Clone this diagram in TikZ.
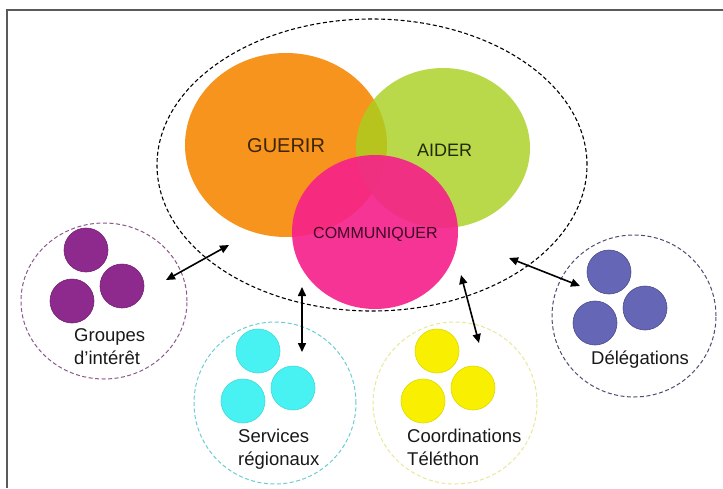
\documentclass[tikz,border=0pt]{standalone}
\usepackage{fontspec}
\setmainfont{Liberation Sans}
\usetikzlibrary{arrows.meta,shapes.geometric}
\definecolor{cOrange}{HTML}{F7941D}
\definecolor{cGreen}{HTML}{A8D01E}
\definecolor{cPink}{HTML}{F61F8A}
\definecolor{cPurple}{HTML}{8E2A8E}
\definecolor{cCyan}{HTML}{48F2F2}
\definecolor{cYellow}{HTML}{F8F000}
\definecolor{cBlue}{HTML}{6666B6}
\definecolor{dPurple}{HTML}{8A5A8A}
\definecolor{dCyan}{HTML}{6CCCD8}
\definecolor{dYellow}{HTML}{E8E89A}
\definecolor{dBlue}{HTML}{4E4E70}
\definecolor{cFrame}{HTML}{5A5A5A}
\begin{document}
\begin{tikzpicture}[x=1pt,y=-1pt,
  frame/.style={draw=cFrame,line width=2pt},
  bigell/.style={ellipse,draw=black,dashed,dash pattern=on 4pt off 2.5pt,line width=1.1pt,inner sep=0pt},
  mainell/.style={ellipse,inner sep=0pt,draw=none},
  grpell/.style={ellipse,dashed,dash pattern=on 4pt off 2.5pt,line width=1pt,inner sep=0pt,minimum width=164pt,minimum height=160pt},
  dot/.style={circle,inner sep=0pt,minimum size=44pt,line width=0.6pt},
  mainlbl/.style={anchor=base west,inner sep=0pt},
  grplbl/.style={anchor=base west,inner sep=0pt,align=left,font=\fontsize{18.5}{22.5}\selectfont,text=black!90},
  link/.style={{Triangle[length=9pt,width=8pt]}-{Triangle[length=9pt,width=8pt]},line width=1.6pt,black}
]
\useasboundingbox (0,0) rectangle (723,488);
\fill[white] (0,0) rectangle (723,488);
\draw[frame] (7,488) -- (7,10) -- (723,10);

% main cluster
\node[bigell,minimum width=430pt,minimum height=292pt] (outer) at (372,165) {};
\node[mainell,fill=cOrange,minimum width=202pt,minimum height=184pt] (guerir) at (286,145) {};
\node[mainell,fill=cGreen,fill opacity=0.8,minimum width=174pt,minimum height=160pt] (aider) at (443,148) {};
\node[mainell,fill=cPink,fill opacity=0.9,minimum width=166pt,minimum height=154pt] (comm) at (375,232) {};
\node[mainlbl,text=black!75!cOrange,font=\fontsize{20}{24}\selectfont] (tguerir) at (247,152) {GUERIR};
\node[mainlbl,text=black!80!cGreen,font=\fontsize{18}{22}\selectfont] (taider) at (417,156) {AIDER};
\node[mainlbl,text=black!75!cPink,font=\fontsize{16}{19}\selectfont] (tcomm) at (313,238) {COMMUNIQUER};

% Groupes d'intérêt
\node[grpell,draw=dPurple,minimum width=166pt,minimum height=156pt] (gpurple) at (104,301) {};
\node[dot,fill=cPurple,draw=cPurple!80!black] (p1) at (86,250) {};
\node[dot,fill=cPurple,draw=cPurple!80!black] (p2) at (122,286) {};
\node[dot,fill=cPurple,draw=cPurple!80!black] (p3) at (72,301) {};
\node[grplbl] (lpurple) at (74,364) {Groupes\\d’intérêt};

% Services régionaux
\node[grpell,draw=dCyan,minimum width=162pt,minimum height=162pt] (gcyan) at (275,403) {};
\node[dot,fill=cCyan,draw=cCyan!90!black] (c1) at (258,351) {};
\node[dot,fill=cCyan,draw=cCyan!90!black] (c2) at (293,388) {};
\node[dot,fill=cCyan,draw=cCyan!90!black] (c3) at (243,401) {};
\node[grplbl] (lcyan) at (238,465) {Services\\régionaux};

% Coordinations Téléthon
\node[grpell,draw=dYellow,minimum width=164pt,minimum height=162pt] (gyellow) at (455,403) {};
\node[dot,fill=cYellow,draw=cYellow!90!black] (y1) at (437,351) {};
\node[dot,fill=cYellow,draw=cYellow!90!black] (y2) at (473,388) {};
\node[dot,fill=cYellow,draw=cYellow!90!black] (y3) at (423,401) {};
\node[grplbl] (lyellow) at (407,465) {Coordinations\\Téléthon};

% Délégations
\node[grpell,draw=dBlue,minimum width=164pt,minimum height=162pt] (gblue) at (634,316) {};
\node[dot,fill=cBlue,draw=cBlue!75!black] (b1) at (609,272) {};
\node[dot,fill=cBlue,draw=cBlue!75!black] (b2) at (645,308) {};
\node[dot,fill=cBlue,draw=cBlue!75!black] (b3) at (595,323) {};
\node[grplbl] (lblue) at (591,364) {Délégations};

% connectors
\coordinate (ap1) at (229,245); \coordinate (ap2) at (166,280);
\coordinate (ac1) at (302,287); \coordinate (ac2) at (302,352);
\coordinate (ay1) at (461,275); \coordinate (ay2) at (479,343);
\coordinate (ab1) at (509,258); \coordinate (ab2) at (580,286);
\draw[link] (ap1) -- (ap2);
\draw[link] (ac1) -- (ac2);
\draw[link] (ay1) -- (ay2);
\draw[link] (ab1) -- (ab2);
\end{tikzpicture}
\end{document}
